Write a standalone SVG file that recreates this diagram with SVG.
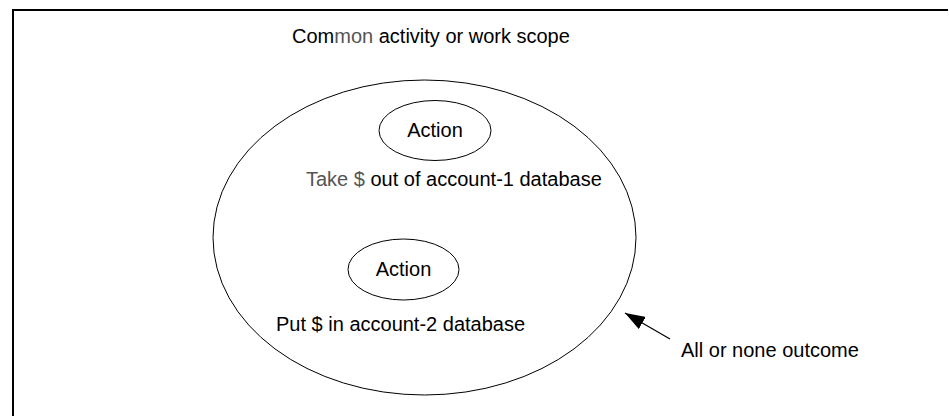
<svg xmlns="http://www.w3.org/2000/svg" width="949" height="416" viewBox="0 0 949 416">
<style>
  text { font-family: "Liberation Sans", Arial, sans-serif; font-size: 20px; fill: #000; }
  .shape { fill: none; stroke: #000; stroke-width: 1; }
  .frame { fill: none; stroke: #000; stroke-width: 2; }
  .faint { fill: #555; }
</style>
<defs>
  <marker id="arrow" markerWidth="22" markerHeight="14" refX="20" refY="7" orient="auto" markerUnits="userSpaceOnUse">
    <path d="M0,0 L20,7 L0,14 Z" fill="#000"/>
  </marker>
</defs>
<rect width="949" height="416" fill="#fff"/>
<path class="frame" d="M13,416 L13,10 L948,10"/>
<g id="title">
  <text x="292" y="43">Com<tspan class="faint">mon</tspan> activity or work scope</text>
</g>
<g id="scope">
  <ellipse class="shape" cx="424.5" cy="237.5" rx="211.5" ry="157.5"/>
</g>
<g id="action1">
  <ellipse class="shape" cx="435" cy="130.5" rx="56" ry="30"/>
  <text x="435" y="137" text-anchor="middle">Action</text>
  <text x="306" y="186"><tspan class="faint">Take $</tspan> out of account-1 database</text>
</g>
<g id="action2">
  <ellipse class="shape" cx="403.5" cy="269.5" rx="55.5" ry="30.5"/>
  <text x="403.5" y="276" text-anchor="middle">Action</text>
  <text x="276" y="331">Put $ in account-2 database</text>
</g>
<g id="connectors">
  <line x1="670" y1="339" x2="625" y2="313" stroke="#000" stroke-width="1.2" marker-end="url(#arrow)"/>
</g>
<g id="outcome">
  <text x="681" y="357">All or none outcome</text>
</g>
</svg>
